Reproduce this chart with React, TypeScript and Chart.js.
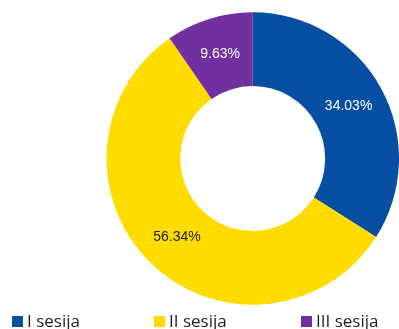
import React, { useEffect, useRef } from "react";
import { Chart, registerables } from "chart.js";

Chart.register(...registerables);

const categories = ["I sesija", "II sesija", "III sesija"];
const shares = [34.03, 56.34, 9.63];
const sliceColors = ["#054ea2", "#ffdc00", "#7030a0"];
const labelColors = ["#ffffff", "#1a1a1a", "#ffffff"];

const valueLabels = {
  id: "valueLabels",
  afterDatasetsDraw(chart: any) {
    const ctx = chart.ctx;
    const meta = chart.getDatasetMeta(0);
    ctx.save();
    ctx.font = "14px 'Liberation Sans', Arial, sans-serif";
    ctx.textAlign = "center";
    ctx.textBaseline = "middle";
    meta.data.forEach((arc: any, i: number) => {
      const p = arc.tooltipPosition();
      ctx.fillStyle = labelColors[i];
      ctx.fillText(shares[i].toFixed(2) + "%", p.x, p.y);
    });
    ctx.restore();
  },
};

const bottomLegend = {
  id: "bottomLegend",
  afterDraw(chart: any, _args: any, opts: any) {
    const ctx = chart.ctx;
    ctx.save();
    ctx.font = "17px 'Open Sans', sans-serif";
    ctx.textBaseline = "alphabetic";
    ctx.textAlign = "left";
    categories.forEach((c, i) => {
      const x = opts.xs[i];
      ctx.fillStyle = sliceColors[i];
      ctx.fillRect(x, opts.boxY, opts.box, opts.box);
      ctx.fillStyle = "#1f1f1f";
      ctx.fillText(c, x + opts.box + 4, opts.textY);
    });
    ctx.restore();
  },
};

export default function App() {
  const ref = useRef<HTMLCanvasElement>(null);
  useEffect(() => {
    document.body.style.margin = "0";
    document.body.style.overflow = "hidden";
    const chart = new Chart(ref.current!, {
      type: "doughnut",
      data: {
        labels: categories,
        datasets: [
          {
            data: shares,
            backgroundColor: sliceColors,
            borderWidth: 0,
          },
        ],
      },
      options: {
        responsive: false,
        animation: false,
        cutout: "49.5%",
        layout: { padding: { left: 106.5, right: -2.5, top: 11, bottom: 23 } },
        plugins: {
          legend: { display: false },
          tooltip: { enabled: false },
          bottomLegend: { xs: [12, 154, 301], boxY: 316, box: 11, textY: 327 },
        } as any,
      },
      plugins: [valueLabels, bottomLegend],
    });
    return () => chart.destroy();
  }, []);
  return (
    <div style={{ width: 399, height: 329, position: "relative", overflow: "hidden" }}>
      <canvas ref={ref} width={399} height={329} style={{ display: "block" }} />
    </div>
  );
}
